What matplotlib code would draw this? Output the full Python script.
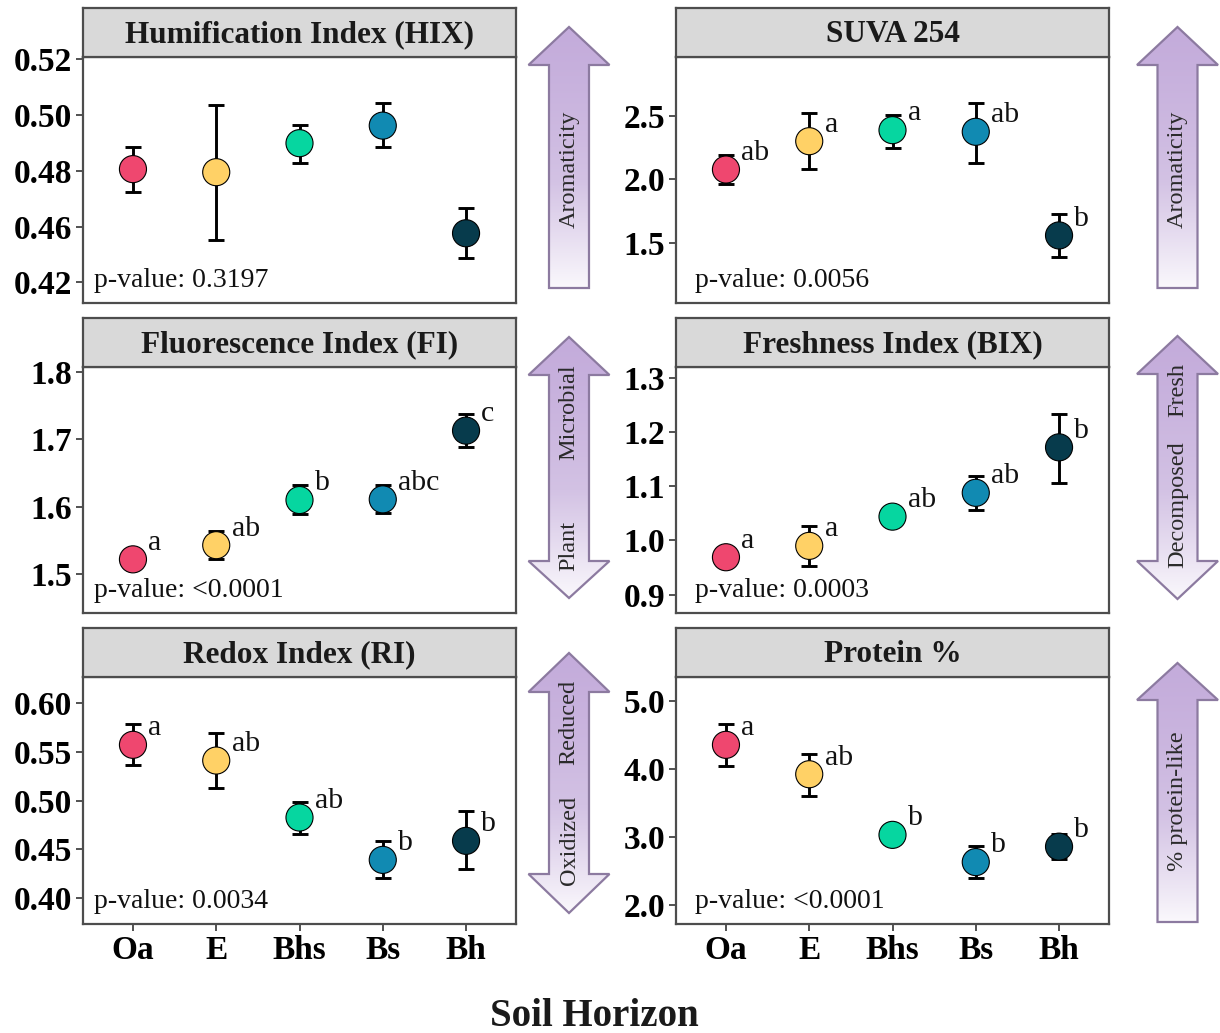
import numpy as np
import matplotlib.pyplot as plt
from matplotlib.patches import Polygon
from matplotlib.colors import LinearSegmentedColormap

plt.rcParams['font.family'] = ['Liberation Serif', 'DejaVu Serif']

# ---- data ----
horizons = ['Oa', 'E', 'Bhs', 'Bs', 'Bh']
colors = ['#EF476F', '#FFD166', '#06D6A0', '#118AB2', '#073B4C']

hix_mean = [0.4806, 0.4795, 0.4899, 0.4962, 0.4576]
hix_lo = [0.4723, 0.4552, 0.4829, 0.4887, 0.4489]
hix_hi = [0.4887, 0.5036, 0.4965, 0.5042, 0.4666]
hix_letters = ['', '', '', '', '']

suva_mean = [2.077, 2.300, 2.387, 2.374, 1.558]
suva_lo = [1.966, 2.079, 2.250, 2.130, 1.385]
suva_hi = [2.190, 2.520, 2.510, 2.600, 1.730]
suva_letters = ['ab', 'a', 'a', 'ab', 'b']

fi_mean = [1.522, 1.543, 1.610, 1.611, 1.713]
fi_lo = [1.516, 1.523, 1.590, 1.591, 1.689]
fi_hi = [1.528, 1.564, 1.632, 1.632, 1.738]
fi_letters = ['a', 'ab', 'b', 'abc', 'c']

bix_mean = [0.969, 0.990, 1.044, 1.088, 1.172]
bix_lo = [0.961, 0.952, 1.036, 1.056, 1.107]
bix_hi = [0.977, 1.026, 1.052, 1.119, 1.234]
bix_letters = ['a', 'a', 'ab', 'ab', 'b']

ri_mean = [0.5572, 0.5411, 0.4827, 0.4393, 0.4588]
ri_lo = [0.5367, 0.5125, 0.4660, 0.4205, 0.4295]
ri_hi = [0.5788, 0.5692, 0.4991, 0.4591, 0.4896]
ri_letters = ['a', 'ab', 'ab', 'b', 'b']

prot_mean = [4.353, 3.921, 3.030, 2.630, 2.857]
prot_lo = [4.044, 3.603, 2.950, 2.390, 2.670]
prot_hi = [4.662, 4.220, 3.110, 2.870, 3.040]
prot_letters = ['a', 'ab', 'b', 'b', 'b']

titles = ['Humification Index (HIX)', 'SUVA 254', 'Fluorescence Index (FI)',
          'Freshness Index (BIX)', 'Redox Index (RI)', 'Protein %']
pvalues = ['p-value: 0.3197', 'p-value: 0.0056', 'p-value: <0.0001',
           'p-value: 0.0003', 'p-value: 0.0034', 'p-value: <0.0001']

# axis settings (HIX bottom label reads 0.42 in the original)
ylims = [(0.4326, 0.5208), (1.026, 2.963), (1.4424, 1.8074),
         (0.866, 1.3204), (0.3736, 0.6267), (1.72, 5.35)]
yticks = [[0.44, 0.46, 0.48, 0.50, 0.52], [1.5, 2.0, 2.5], [1.5, 1.6, 1.7, 1.8],
          [0.9, 1.0, 1.1, 1.2, 1.3], [0.40, 0.45, 0.50, 0.55, 0.60], [2.0, 3.0, 4.0, 5.0]]
yticklabels = [['0.42', '0.46', '0.48', '0.50', '0.52'], ['1.5', '2.0', '2.5'],
               ['1.5', '1.6', '1.7', '1.8'], ['0.9', '1.0', '1.1', '1.2', '1.3'],
               ['0.40', '0.45', '0.50', '0.55', '0.60'], ['2.0', '3.0', '4.0', '5.0']]

means = [hix_mean, suva_mean, fi_mean, bix_mean, ri_mean, prot_mean]
los = [hix_lo, suva_lo, fi_lo, bix_lo, ri_lo, prot_lo]
his = [hix_hi, suva_hi, fi_hi, bix_hi, ri_hi, prot_hi]
letters = [hix_letters, suva_letters, fi_letters, bix_letters, ri_letters, prot_letters]

# ---- layout (pixels) ----
W, H = 1220, 1033
fig = plt.figure(figsize=(12.2, 10.33), dpi=100)

def rect(x0, y0, x1, y1):
    return [x0 / W, 1 - y1 / H, (x1 - x0) / W, (y1 - y0) / H]

col_x = [(83, 516), (676, 1109)]
row_y = [(57, 303), (367, 613), (677, 924)]
pval_x = [0.025, 0.045]
edge = '#4D4D4D'

x = np.arange(1, 6)
for i in range(6):
    r, c = divmod(i, 2)
    x0, x1 = col_x[c]
    y0, y1 = row_y[r]
    ax = fig.add_axes(rect(x0, y0, x1, y1))
    m = np.array(means[i])
    lo = np.array(los[i])
    hi = np.array(his[i])
    ax.errorbar(x, m, yerr=[m - lo, hi - m], fmt='none', ecolor='black',
                elinewidth=2.1, capsize=6, capthick=2.1, zorder=2)
    ax.scatter(x, m, s=380, c=colors, edgecolors='black', linewidths=0.8, zorder=3)
    for xi, yi, lab in zip(x, m, letters[i]):
        if lab:
            ax.annotate(lab, (xi, yi), xytext=(11, 12), textcoords='offset points',
                        ha='left', va='center', fontsize=21.5, color='#111111')
    ax.text(pval_x[c], 0.09, pvalues[i], transform=ax.transAxes, ha='left', va='center',
            fontsize=20, color='#111111')
    ax.set_xlim(0.4, 5.6)
    ax.set_ylim(*ylims[i])
    ax.set_yticks(yticks[i])
    ax.set_yticklabels(yticklabels[i], fontsize=24, fontweight='bold')
    if r == 2:
        ax.set_xticks(x)
        ax.set_xticklabels(horizons, fontsize=24, fontweight='bold')
    else:
        ax.set_xticks([])
    ax.tick_params(axis='both', length=5, width=1.2, color='#333333', pad=3)
    for s in ax.spines.values():
        s.set_color(edge)
        s.set_linewidth(1.6)

    sax = fig.add_axes(rect(x0, y0 - 49, x1, y0))
    sax.set_facecolor('#D9D9D9')
    sax.set_xticks([])
    sax.set_yticks([])
    for s in sax.spines.values():
        s.set_color(edge)
        s.set_linewidth(1.6)
    sax.text(0.5, 0.46, titles[i], ha='center', va='center', fontsize=22.5,
             fontweight='bold', color='#1A1A1A')

fig.text(594 / W, 1 - 1016 / H, 'Soil Horizon', ha='center', va='center',
         fontsize=28, fontweight='bold', color='#1A1A1A')

# ---- gradient arrows ----
ov = fig.add_axes([0, 0, 1, 1])
ov.set_xlim(0, W)
ov.set_ylim(H, 0)
ov.axis('off')
cmap = LinearSegmentedColormap.from_list('arr', ['#C4ACDB', '#D3C2E4', '#FAF8FC'])
grad = np.linspace(0, 1, 256).reshape(-1, 1) ** 1.3

def arrow(cx, top, top_base, bottom, bot_base=None, sw=40, hw=81):
    l, rr = cx - sw / 2, cx + sw / 2
    hl, hr = cx - hw / 2, cx + hw / 2
    pts = [(l, top_base), (hl, top_base), (cx, top), (hr, top_base), (rr, top_base)]
    if bot_base is None:
        pts += [(rr, bottom), (l, bottom)]
    else:
        pts += [(rr, bot_base), (hr, bot_base), (cx, bottom), (hl, bot_base), (l, bot_base)]
    poly = Polygon(pts, closed=True, facecolor='none', edgecolor='#8C7AA0', lw=1.6, zorder=3)
    ov.add_patch(poly)
    im = ov.imshow(grad, cmap=cmap, extent=(hl, hr, bottom, top), aspect='auto',
                   origin='upper', zorder=2)
    im.set_clip_path(poly)

arrow(569, 27, 65, 288)
arrow(1177.5, 27, 65, 288)
arrow(569, 337, 375, 598, 561)
arrow(1177.5, 336, 374, 599, 561)
arrow(569, 653, 692, 913, 874)
arrow(1177.5, 663, 700, 922)
ov.set_xlim(0, W)
ov.set_ylim(H, 0)

arrow_text = [(569, 169, 'Aromaticity'), (1177.5, 169, 'Aromaticity'),
              (569, 412, 'Microbial'), (569, 546, 'Plant'),
              (1177.5, 390, 'Fresh'), (1177.5, 505, 'Decomposed'),
              (569, 722, 'Reduced'), (569, 840, 'Oxidized'),
              (1177.5, 801, '% protein-like')]
for tx, ty, t in arrow_text:
    ov.text(tx, ty, t, rotation=90, ha='center', va='center', fontsize=17.5,
            color='#2A2A2A', zorder=4)

fig.savefig('out.png', dpi=100)
